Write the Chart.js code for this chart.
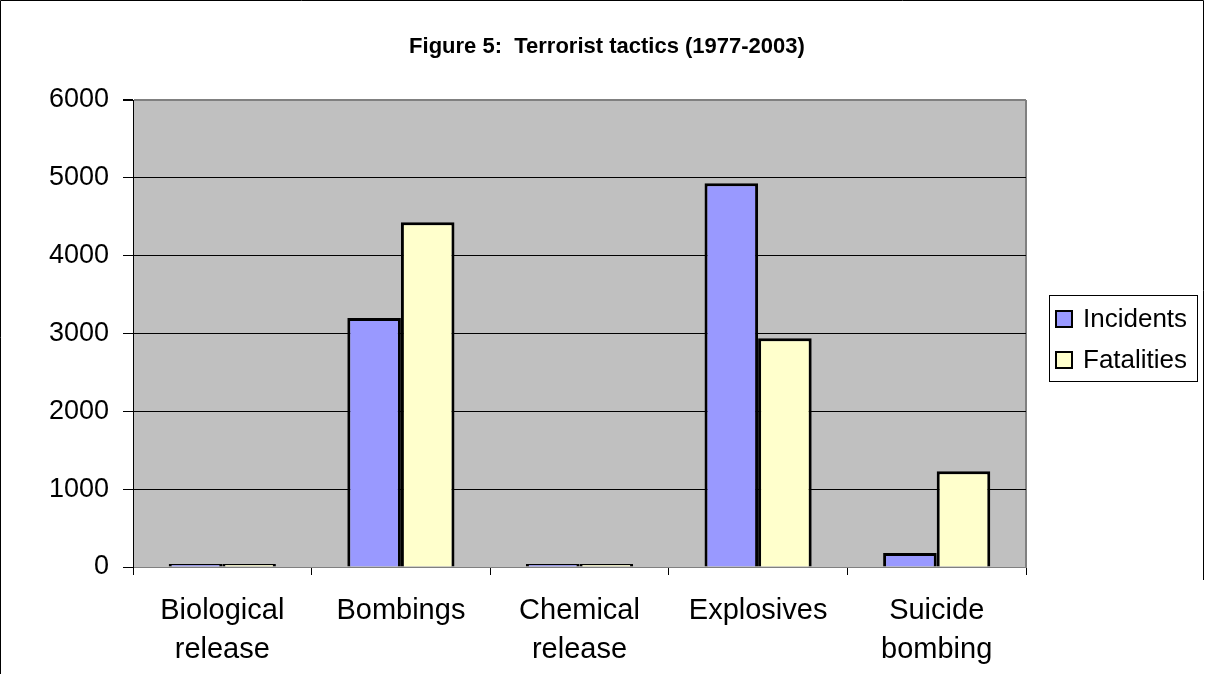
<!DOCTYPE html>
<html>
<head>
<meta charset="utf-8">
<title>Terrorist tactics</title>
<script src="https://cdn.jsdelivr.net/npm/chart.js@4/dist/chart.umd.min.js"></script>
<style>
    html, body { margin: 0; padding: 0; background: #fff; }
    #wrap { width: 1205px; height: 674px; position: relative; }
</style>
</head>
<body>
<div id="wrap"><canvas id="tacticsChart" width="1205" height="674"></canvas></div>
<script>
const categories = [['Biological', 'release'], 'Bombings', ['Chemical', 'release'], 'Explosives', ['Suicide', 'bombing']];
const incidents = [20, 3200, 10, 4930, 180];
const fatalities = [8, 4430, 25, 2940, 1230];
const seriesNames = ['Incidents', 'Fatalities'];
const yTicks = [0, 1000, 2000, 3000, 4000, 5000, 6000];
const titleText = 'Figure 5:  Terrorist tactics (1977-2003)';

const FONT = "'Liberation Sans', Arial, sans-serif";

// plot background, title, legend and outer frame
const decorations = {
    id: 'decorations',
    beforeDraw(chart) {
        const { ctx, chartArea: a } = chart;
        ctx.save();
        ctx.fillStyle = '#c0c0c0';
        ctx.fillRect(a.left, a.top, a.right - a.left, a.bottom - a.top);
        // gray right edge of plot
        ctx.strokeStyle = '#808080';
        ctx.lineWidth = 2;
        ctx.beginPath();
        ctx.moveTo(a.right, a.top);
        ctx.lineTo(a.right, a.bottom);
        ctx.stroke();
        ctx.restore();
    },
    afterDraw(chart) {
        const { ctx } = chart;
        ctx.save();
        // title
        ctx.fillStyle = '#000';
        ctx.font = 'bold 22px ' + FONT;
        ctx.textAlign = 'center';
        ctx.textBaseline = 'middle';
        ctx.fillText(titleText, 607, 47);

        // legend box
        ctx.strokeStyle = '#000';
        ctx.lineWidth = 1;
        ctx.strokeRect(1049.5, 295.5, 148, 86);
        ctx.font = '26px ' + FONT;
        ctx.textAlign = 'left';
        chart.data.datasets.forEach((ds, i) => {
            const cy = 319 + i * 41;
            ctx.fillStyle = ds.backgroundColor;
            ctx.fillRect(1056, cy - 8, 16, 16);
            ctx.lineWidth = 2;
            ctx.strokeRect(1056, cy - 8, 16, 16);
            ctx.fillStyle = '#000';
            ctx.fillText(ds.label, 1083, cy + 1);
        });

        // outer frame
        ctx.lineWidth = 1;
        ctx.beginPath();
        ctx.moveTo(0.5, 674);
        ctx.lineTo(0.5, 0.5);
        ctx.lineTo(1203.5, 0.5);
        ctx.lineTo(1203.5, 580);
        ctx.stroke();
        ctx.restore();
    }
};

const ctx = document.getElementById('tacticsChart').getContext('2d');
const chart = new Chart(ctx, {
    type: 'bar',
    data: {
        labels: categories,
        datasets: [{
            label: seriesNames[0],
            data: incidents,
            backgroundColor: '#9999ff',
            borderColor: '#000',
            borderWidth: 3,
            minBarLength: 3,
        }, {
            label: seriesNames[1],
            data: fatalities,
            backgroundColor: '#ffffcc',
            borderColor: '#000',
            borderWidth: 3,
            minBarLength: 3,
        }],
    },
    options: {
        responsive: false,
        animation: false,
        layout: {
            padding: { top: 100, right: 179, bottom: 0, left: 0 }
        },
        datasets: {
            bar: {
                categoryPercentage: 0.6,
                barPercentage: 1.0,
            }
        },
        scales: {
            x: {
                grid: {
                    offset: true,
                    drawOnChartArea: false,
                    tickLength: 8,
                    tickColor: '#000',
                },
                border: { color: '#808080', width: 1 },
                ticks: {
                    color: '#000',
                    padding: 16,
                    maxRotation: 0,
                    autoSkip: false,
                    font: { family: FONT, size: 29, lineHeight: 1.36 },
                },
                afterFit(scale) { scale.height = 107; },
            },
            y: {
                min: 0,
                max: 6000,
                afterBuildTicks(scale) {
                    scale.ticks = yTicks.map(v => ({ value: v }));
                },
                grid: {
                    color: c => (c.tick && (c.tick.value === 6000 || c.tick.value === 0)) ? '#808080' : '#000',
                    lineWidth: c => (c.tick && c.tick.value === 6000) ? 2 : 1,
                    tickColor: '#000',
                    tickLength: 10,
                },
                border: { color: '#000', width: 1 },
                ticks: {
                    color: '#000',
                    padding: 14,
                    font: { family: FONT, size: 27 },
                    callback: v => String(v),
                },
                afterFit(scale) { scale.width = 133; },
            }
        },
        plugins: {
            legend: { display: false },
            title: { display: false },
            tooltip: { enabled: false },
        }
    },
    plugins: [decorations]
});
</script>
</body>
</html>
